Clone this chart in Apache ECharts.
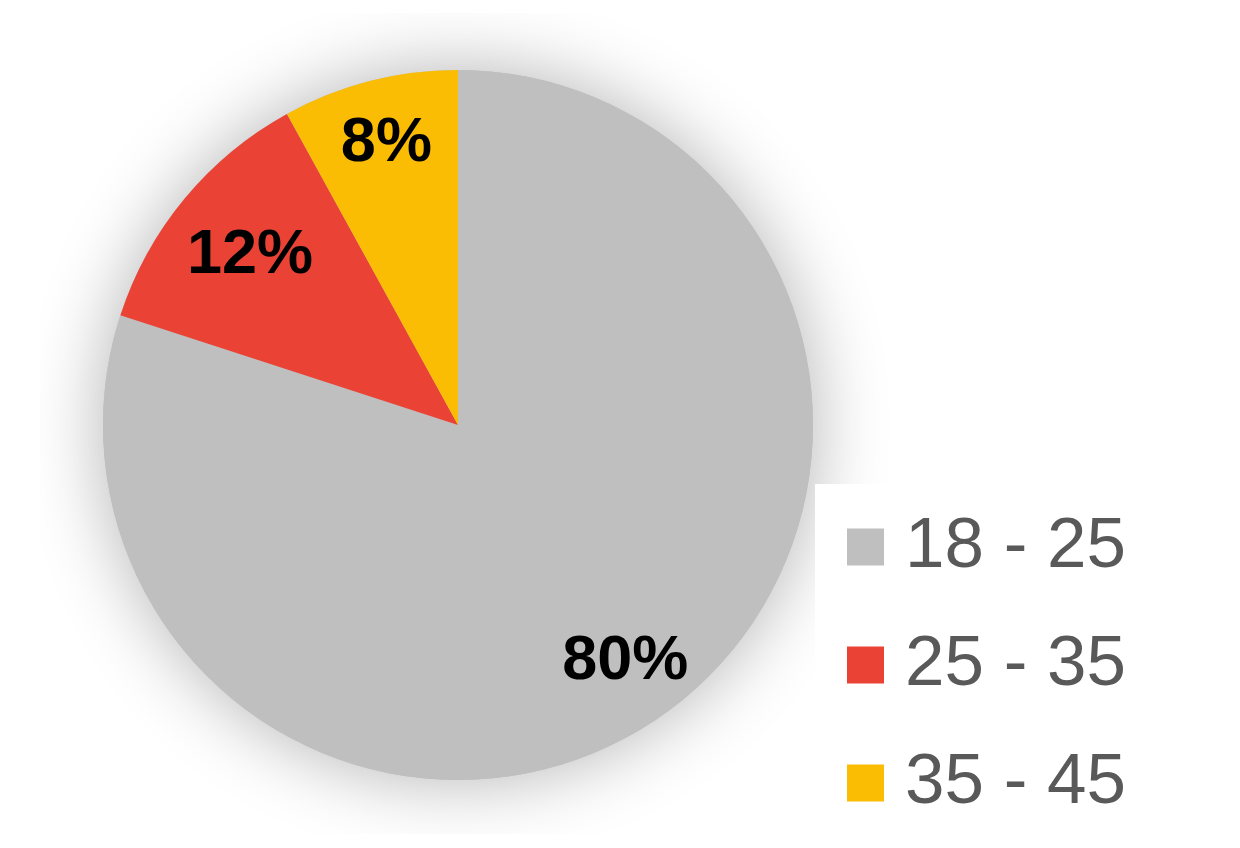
<!DOCTYPE html>
<html>
<head>
<meta charset="utf-8">
<style>
  html, body { margin: 0; padding: 0; background: #fff; }
  #chart { width: 1240px; height: 848px; }
</style>
<script src="https://cdn.jsdelivr.net/npm/echarts@6/dist/echarts.min.js"></script>
</head>
<body>
<div id="chart"></div>
<script>
// age groups and their share (%)
const categories = ['18 - 25', '25 - 35', '35 - 45']
const shares = [80, 12, 8]
const colors = ['#bfbfbf', '#ea4335', '#fbbc04']

const FONT = '"Liberation Sans", Arial, sans-serif'
const center = [458, 425]
const total = shares.reduce((a, b) => a + b, 0)

// small nudges so labels sit where the original put them
const labelNudge = [[-2, 4], [14, 14], [0, -2]]

const chart = echarts.init(document.getElementById('chart'))

chart.setOption({
  backgroundColor: '#fff',
  animation: false,
  legend: {
    data: categories,
    orient: 'vertical',
    left: 842,
    top: 502,
    z: 200,
    icon: 'rect',
    itemWidth: 37,
    itemHeight: 37,
    itemGap: 38,
    selectedMode: false,
    textStyle: {
      fontFamily: FONT,
      fontSize: 71,
      lineHeight: 80,
      color: '#595959',
      padding: [0, 0, 0, 16]
    }
  },
  // white masks that clip the soft shadow like the original picture
  graphic: [
    { type: 'rect', z: 100, shape: { x: 0, y: 0, width: 40, height: 848 }, style: { fill: '#fff' } },
    { type: 'rect', z: 100, shape: { x: 0, y: 0, width: 1240, height: 13 }, style: { fill: '#fff' } },
    { type: 'rect', z: 100, shape: { x: 0, y: 834, width: 1240, height: 14 }, style: { fill: '#fff' } },
    { type: 'rect', z: 100, shape: { x: 815, y: 484, width: 425, height: 364 }, style: { fill: '#fff' } }
  ],
  series: [
    {
      // whole disc underneath, only there to cast the soft shadow
      type: 'pie',
      z: 1,
      center,
      radius: 355,
      silent: true,
      label: { show: false },
      labelLine: { show: false },
      itemStyle: {
        color: colors[0],
        shadowBlur: 75,
        shadowColor: 'rgba(0,0,0,0.3)'
      },
      data: [{ name: '', value: total }]
    },
    {
      type: 'pie',
      z: 2,
      center,
      radius: 355,
      startAngle: 90,
      clockwise: true,
      silent: true,
      label: { show: false },
      labelLine: { show: false },
      data: categories.map((name, i) => ({
        name,
        value: shares[i],
        itemStyle: { color: colors[i] }
      }))
    },
    {
      // transparent ring only used to place the percentage labels at ~0.8 r
      type: 'pie',
      z: 3,
      center,
      radius: [215, 355],
      startAngle: 90,
      clockwise: true,
      silent: true,
      itemStyle: { color: 'rgba(0,0,0,0)' },
      label: {
        show: true,
        position: 'inside',
        formatter: '{c}%',
        fontFamily: FONT,
        fontWeight: 'bold',
        fontSize: 63,
        color: '#000'
      },
      labelLine: { show: false },
      labelLayout: (p) => ({ dx: labelNudge[p.dataIndex][0], dy: labelNudge[p.dataIndex][1] }),
      data: categories.map((name, i) => ({ name, value: shares[i] }))
    }
  ]
})
</script>
</body>
</html>
